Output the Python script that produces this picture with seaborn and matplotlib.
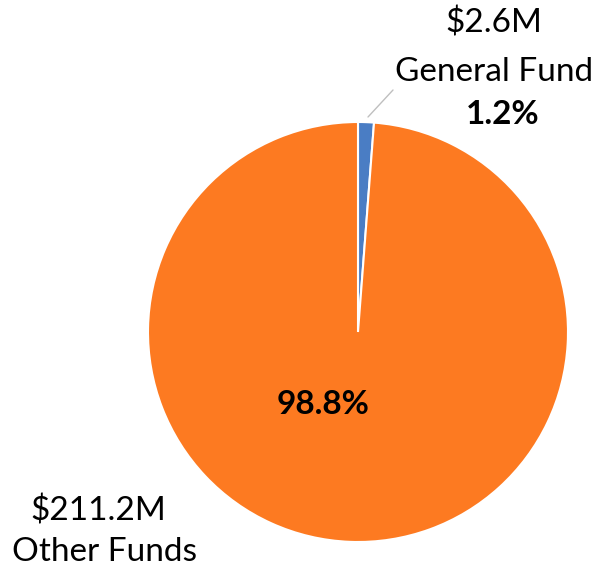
import matplotlib.pyplot as plt
import seaborn as sns

funds = ['General Fund', 'Other Funds']
amounts = [2.6, 211.2]  # $M
amount_labels = ['$2.6M', '$211.2M']
pct_labels = ['1.2%', '98.8%']
colors = ['#4A7DC4', '#FD7A21']

sns.set_theme(style="white")
plt.rcParams['font.family'] = ['Lato', 'DejaVu Sans']
plt.rcParams['text.color'] = 'black'

fig = plt.figure(figsize=(6.10, 5.68), dpi=100)
ax = fig.add_axes([0, 0, 1, 1])

# pie centred at (358, 332) from the top, radius 210
cx, cy, r = 358, 568 - 332, 210
ax.pie(amounts, colors=colors, startangle=90, counterclock=False,
       center=(cx, cy), radius=r, frame=True,
       wedgeprops=dict(linewidth=1.5, edgecolor='white'))
ax.set_xlim(0, 610)
ax.set_ylim(0, 568)
ax.set_aspect('equal')
ax.axis('off')

fs = 24
# General Fund label with leader line
ax.plot([368, 393], [568 - 117, 568 - 90], color='#BFBFBF', lw=1)
ax.text(494, 568 - 23, amount_labels[0], ha='center', va='center', fontsize=fs)
ax.text(494, 568 - 72, funds[0], ha='center', va='center', fontsize=fs)
ax.text(503, 568 - 115, pct_labels[0], ha='center', va='center', fontsize=fs, fontweight='bold')

# Other Funds
ax.text(323, 568 - 405, pct_labels[1], ha='center', va='center', fontsize=fs, fontweight='bold')
ax.text(98, 568 - 511, amount_labels[1], ha='center', va='center', fontsize=fs)
ax.text(105, 568 - 552, funds[1], ha='center', va='center', fontsize=fs)

fig.savefig('out.png', dpi=100, facecolor='white')
